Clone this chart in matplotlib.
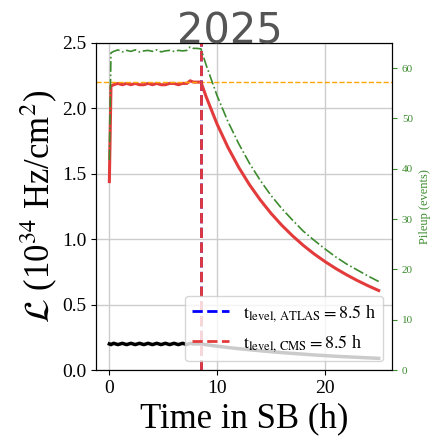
import matplotlib
matplotlib.use("Agg")
import matplotlib.pyplot as plt
from matplotlib.lines import Line2D

plt.rcParams['font.family'] = ['Liberation Serif', 'DejaVu Serif']
plt.rcParams['mathtext.fontset'] = 'stix'

# time in stable beams (h)
time_h = [0, 0.15, 0.4, 0.8, 1.2, 1.6, 2.0, 2.4, 2.8, 3.2, 3.6, 4.0, 4.4, 4.8,
          5.2, 5.6, 6.0, 6.4, 6.8, 7.2, 7.5, 7.8, 8.1, 8.5,
          9, 10, 11, 12, 13, 14, 15, 16, 17, 18, 19, 20, 21, 22, 23, 24, 25]

# luminosity (1e34 Hz/cm^2)
lumi = [1.44, 2.17, 2.18, 2.19, 2.18, 2.19, 2.18, 2.19, 2.18, 2.18, 2.19, 2.18,
        2.19, 2.18, 2.18, 2.19, 2.19, 2.18, 2.19, 2.19, 2.21, 2.20, 2.20, 2.20,
        2.085, 1.879, 1.703, 1.550, 1.417, 1.301, 1.198, 1.107, 1.026, 0.953,
        0.888, 0.830, 0.777, 0.729, 0.685, 0.645, 0.608]

# low-luminosity experiment
lumi_low = [0.20, 0.195, 0.205, 0.195, 0.205, 0.195, 0.205, 0.195, 0.205, 0.195,
            0.205, 0.195, 0.205, 0.195, 0.205, 0.195, 0.205, 0.195, 0.205, 0.195,
            0.205, 0.20, 0.20, 0.20,
            0.194, 0.183, 0.173, 0.164, 0.156, 0.148, 0.141, 0.134, 0.128, 0.122,
            0.116, 0.111, 0.106, 0.102, 0.098, 0.094, 0.090]

# pileup (events)
pileup = [41.7, 63.0, 63.3, 63.6, 63.2, 63.5, 63.3, 63.6, 63.2, 63.4, 63.5, 63.3,
          63.6, 63.2, 63.4, 63.5, 63.3, 63.5, 63.4, 63.5, 64.2, 63.9, 63.9, 63.8,
          60.5, 54.5, 49.4, 45.0, 41.1, 37.7, 34.7, 32.1, 29.8, 27.6,
          25.8, 24.1, 22.5, 21.1, 19.9, 18.7, 17.6]

level_lumi = 2.2
t_level_atlas = 8.5
t_level_cms = 8.5

fig = plt.figure(figsize=(4.30, 4.37), dpi=100)
ax = fig.add_axes([0.223, 0.153, 0.689, 0.749])
ax2 = ax.twinx()

red = '#e33b3b'
green = '#3d8b2f'

ax.grid(True, color='#cccccc', lw=1)
ax.set_axisbelow(True)
ax.plot(time_h, lumi_low, color='black', lw=2.5)
ax.plot(time_h, lumi, color=red, lw=2.2)
ax.axhline(level_lumi, color='orange', ls='--', lw=1)
ax.axvline(t_level_atlas, color='blue', ls='--', lw=2)
ax.axvline(t_level_cms, color=red, ls='--', lw=2)

ax2.plot(time_h, pileup, color=green, ls='-.', lw=1.2)

ax.set_xlim(-1.25, 26.25)
ax.set_ylim(0, 2.5)
ax2.set_ylim(0, 65)
ax.set_xticks([0, 10, 20])
ax.set_yticks([0.0, 0.5, 1.0, 1.5, 2.0, 2.5])
ax.set_yticklabels(['0.0', '0.5', '1.0', '1.5', '2.0', '2.5'])
ax.tick_params(labelsize=14)
ax2.tick_params(axis='y', colors=green, labelsize=8)
ax2.set_ylabel('Pileup (events)', color=green, fontsize=9)

ax.set_xlabel('Time in SB (h)', fontsize=25)
ax.set_ylabel(r'$\mathcal{L}$ (10$^{34}$ Hz/cm$^2$)', fontsize=25, labelpad=2)

handles = [Line2D([], [], color='blue', ls='--', lw=2),
           Line2D([], [], color=red, ls='--', lw=2)]
labels = [r'$\mathrm{t_{level,\,ATLAS}} = 8.5$ h',
          r'$\mathrm{t_{level,\,CMS}} = 8.5$ h']
ax2.legend(handles, labels, loc='lower right', fontsize=13)

fig.text(0.535, 1 - 43 / 437, '2025', ha='center', va='baseline',
         fontsize=30, color='#555555', family='DejaVu Sans')

fig.savefig('out.png', dpi=100)
